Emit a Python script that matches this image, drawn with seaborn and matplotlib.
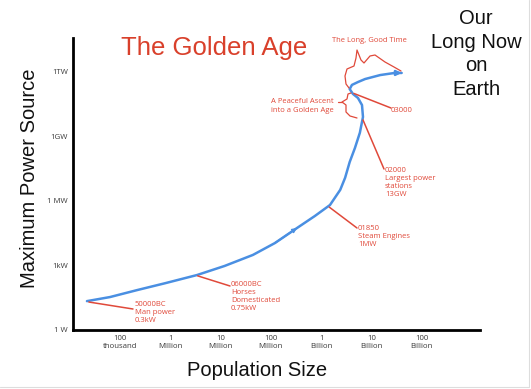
import matplotlib
matplotlib.use("Agg")
import matplotlib.pyplot as plt
import seaborn as sns
import pandas as pd
from matplotlib.lines import Line2D

# ---------------- data ----------------
curve_population = [2.2e4, 6.3e4, 2.2e5, 7.9e5, 3.4e6, 1.2e7, 4.4e7, 1.2e8, 3.3e8,
                    7.5e8, 1.5e9, 2.4e9, 3.0e9, 3.7e9, 4.7e9, 5.9e9, 6.8e9, 6.5e9,
                    5.4e9, 4.3e9, 3.7e9, 4.1e9, 5.4e9, 7.5e9, 1.5e10, 2.9e10, 4.0e10]
curve_power_w = [22, 34, 72, 150, 360, 950, 3.1e3, 1.1e4, 5.5e4,
                 2.0e5, 6.5e5, 3.3e6, 1.2e7, 6.5e7, 2.9e8, 1.5e9, 8.1e9, 2.9e10,
                 6.2e10, 9.5e10, 1.6e11, 2.5e11, 3.4e11, 4.7e11, 7.2e11, 9.0e11, 9.0e11]

event_labels = ["50000BC\nMan power\n0.3kW",
                "06000BC\nHorses\nDomesticated\n0.75kW",
                "01850\nSteam Engines\n1MW",
                "02000\nLargest power\nstations\n13GW",
                "03000"]
event_population = [2.4e4, 3.5e6, 1.45e9, 6.8e9, 4.5e9]
event_power_w = [20, 330, 5.2e5, 5.9e9, 1.0e11]

x_ticks = [1e5, 1e6, 1e7, 1e8, 1e9, 1e10, 1e11, 1e12]
x_tick_labels = ["100\nthousand", "1\nMillion", "10\nMillion", "100\nMillion",
                 "1\nBillion", "10\nBillion", "100\nBillion", ""]
y_ticks = [1, 1e3, 1e6, 1e9, 1e12]
y_tick_labels = ["1 W", "1kW", "1 MW", "1GW", "1TW"]
y_minor_ticks = [10**1.5, 10**4.5, 10**7.5, 10**10.5]

# ---------------- style ----------------
W, H = 531, 389
sns.set_theme(style="white")
plt.rcParams["font.family"] = ["Liberation Sans", "DejaVu Sans"]

RED = "#e0493a"
TITLE_RED = "#d9402b"
BLUE = "#4a8fe2"

fig = plt.figure(figsize=(W / 100, H / 100), dpi=100)
fig.patch.set_facecolor("white")
ax = fig.add_axes([73 / W, 1 - 330 / H, (480 - 73) / W, (330 - 38) / H])

df = pd.DataFrame({"population": curve_population, "power": curve_power_w})
sns.lineplot(data=df, x="population", y="power", sort=False, estimator=None,
             color=BLUE, linewidth=1.8, ax=ax)

ax.set_xscale("log")
ax.set_yscale("log")
ax.set_xlim(10**4.065, 10**12.16)
ax.set_ylim(1, 10**13.58)

# end arrowhead and mid-curve barb
ax.annotate("", xy=(curve_population[-1], curve_power_w[-1]),
            xytext=(curve_population[-2], curve_power_w[-2]),
            arrowprops=dict(arrowstyle="-|>", color=BLUE, lw=1.8,
                            mutation_scale=7, shrinkA=0, shrinkB=0))
ax.annotate("", xy=(curve_population[8], curve_power_w[8]),
            xytext=(curve_population[7], curve_power_w[7]),
            arrowprops=dict(arrowstyle="->", color=BLUE, lw=1.2,
                            mutation_scale=6, shrinkA=0, shrinkB=0))

# ticks
ax.set_xticks(x_ticks)
ax.set_xticklabels(x_tick_labels)
ax.set_yticks(y_ticks)
ax.set_yticklabels(y_tick_labels)
ax.set_yticks(y_minor_ticks, minor=True)
ax.xaxis.set_minor_locator(matplotlib.ticker.NullLocator())
ax.tick_params(axis="both", which="both", direction="inout", length=3.5, width=1.6,
               color="black", labelsize=5.6, labelcolor="#3a3a3a", pad=2)
for lab in ax.get_xticklabels() + ax.get_yticklabels():
    lab.set_family(["Open Sans", "DejaVu Sans"])
    lab.set_linespacing(1.15)

for s in ["top", "right"]:
    ax.spines[s].set_visible(False)
for s in ["left", "bottom"]:
    ax.spines[s].set_color("black")
    ax.spines[s].set_linewidth(2.0)
ax.set_xlabel("")
ax.set_ylabel("")
ax.grid(False)

# axis titles
fig.text(257 / W, 1 - 370 / H, "Population Size", ha="center", va="center",
         fontsize=14.5, color="#111111")
fig.text(30 / W, 1 - 178 / H, "Maximum Power Source", ha="center", va="center",
         rotation=90, fontsize=14.5, color="#111111")

# headings
fig.text(214 / W, 1 - 48 / H, "The Golden Age", ha="center", va="center",
         fontsize=18.5, color=TITLE_RED)
fig.text(476 / W, 1 - 54 / H, "Our\nLong Now\non\nEarth", ha="center", va="center",
         fontsize=14.5, color="#111111", linespacing=1.3)

# event annotations
ann_font = ["Open Sans", "DejaVu Sans"]
line_ends = [(133, 309), (230, 286), (357, 228), (384, 169), (391, 108)]
text_pos = [(135, 301), (231, 281), (358, 225), (385, 167), (391, 110)]
for lab, px, pw, (ex, ey), (tx, ty) in zip(event_labels, event_population,
                                           event_power_w, line_ends, text_pos):
    ax.annotate("", xy=(px, pw), xycoords="data", xytext=(ex, H - ey),
                textcoords="figure pixels",
                arrowprops=dict(arrowstyle="-", color=RED, lw=1.1,
                                shrinkA=0, shrinkB=0))
    va = "center" if "\n" not in lab else "top"
    fig.text(tx / W, 1 - ty / H, lab, ha="left", va=va, fontsize=5.5,
             color=RED, family=ann_font, linespacing=1.2)

fig.text(271 / W, 1 - 106 / H, "A Peaceful Ascent\ninto a Golden Age",
         ha="left", va="center", fontsize=5.5, color=RED, family=ann_font,
         linespacing=1.25)
fig.text(369 / W, 1 - 40 / H, "The Long, Good Time", ha="center", va="center",
         fontsize=5.5, color=RED, family=ann_font)

# hand-drawn braces (figure pixel paths)
def fig_line(pts, **kw):
    xs = [p[0] / W for p in pts]
    ys = [1 - p[1] / H for p in pts]
    fig.add_artist(Line2D(xs, ys, transform=fig.transFigure, **kw))

fig_line([(349, 88), (346, 84), (345, 76), (347, 69), (354, 66), (356, 58),
          (357, 50), (361, 60), (364, 63), (370, 56), (375, 55), (385, 62),
          (394, 67), (401, 71)], color=RED, lw=0.9)
fig_line([(351, 93), (348, 94), (347, 99), (342, 102), (346, 105), (346, 112),
          (350, 116), (357, 118)], color=RED, lw=0.9)
fig_line([(338, 102), (342, 102)], color=RED, lw=0.9)

# faint frame of the original screenshot
fig_line([(529, 0), (529, 387), (0, 387)], color="#dddddd", lw=0.8)

fig.savefig("out.png", dpi=100, facecolor="white")
